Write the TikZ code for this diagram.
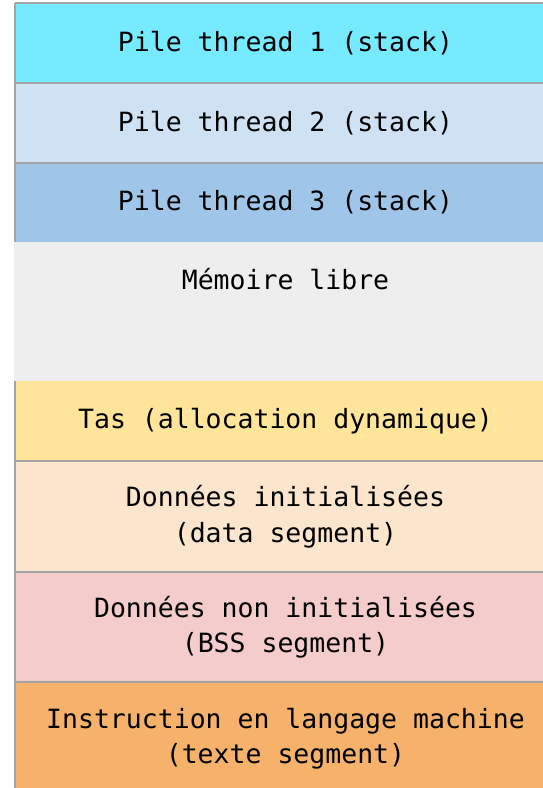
\documentclass[tikz,border=0pt]{standalone}
\usepackage{fontspec}
\setmonofont{DejaVu Sans Mono}
\definecolor{cStackA}{HTML}{76EAFF}
\definecolor{cStackB}{HTML}{CFE2F3}
\definecolor{cStackC}{HTML}{9FC5E8}
\definecolor{cFree}{HTML}{EEEEEE}
\definecolor{cHeap}{HTML}{FFE599}
\definecolor{cData}{HTML}{FCE5CD}
\definecolor{cBss}{HTML}{F4CCCC}
\definecolor{cText}{HTML}{F6B26B}
\definecolor{cBorder}{HTML}{A4A4A4}
\tikzset{
  seg/.style={anchor=north west, rectangle, inner sep=0pt, outer sep=0pt,
    minimum width=541pt, align=center,
    font=\ttfamily\fontsize{26.5}{35.5}\selectfont, text=black},
  edge/.style={draw=cBorder, line width=1.6pt}
}
\begin{document}
\begin{tikzpicture}[x=1pt,y=-1pt]
\useasboundingbox (0,0) rectangle (543,788);
\node[seg, fill=cStackA, minimum height=80pt] (s1) at (15,3) {Pile thread 1 (stack)};
\node[seg, fill=cStackB, minimum height=80pt] (s2) at (15,83) {Pile thread 2 (stack)};
\node[seg, fill=cStackC, minimum height=79pt] (s3) at (15,163) {Pile thread 3 (stack)};
\node[seg, fill=cFree, minimum height=139pt, minimum width=542pt] (free) at (14,242) {};
\node[seg, anchor=center] (freetxt) at (285.5,279) {Mémoire libre};
\node[seg, fill=cHeap, minimum height=80pt] (heap) at (15,381) {Tas (allocation dynamique)};
\node[seg, fill=cData, minimum height=111pt] (data) at (15,461) {Données initialisées\\(data segment)};
\node[seg, fill=cBss, minimum height=110pt] (bss) at (15,572) {Données non initialisées\\(BSS segment)};
\node[seg, fill=cText, minimum height=113pt] (txt) at (15,682) {Instruction en langage machine\\(texte segment)};
\draw[edge] (s1.north west) -- (s1.north east);
\draw[edge] (s2.north west) -- (s2.north east);
\draw[edge] (s3.north west) -- (s3.north east);
\draw[edge] (data.north west) -- (data.north east);
\draw[edge] (bss.north west) -- (bss.north east);
\draw[edge] (txt.north west) -- (txt.north east);
\draw[edge] (s1.north west) -- (s3.south west);
\draw[edge] (heap.north west) -- (txt.south west);
\end{tikzpicture}
\end{document}
